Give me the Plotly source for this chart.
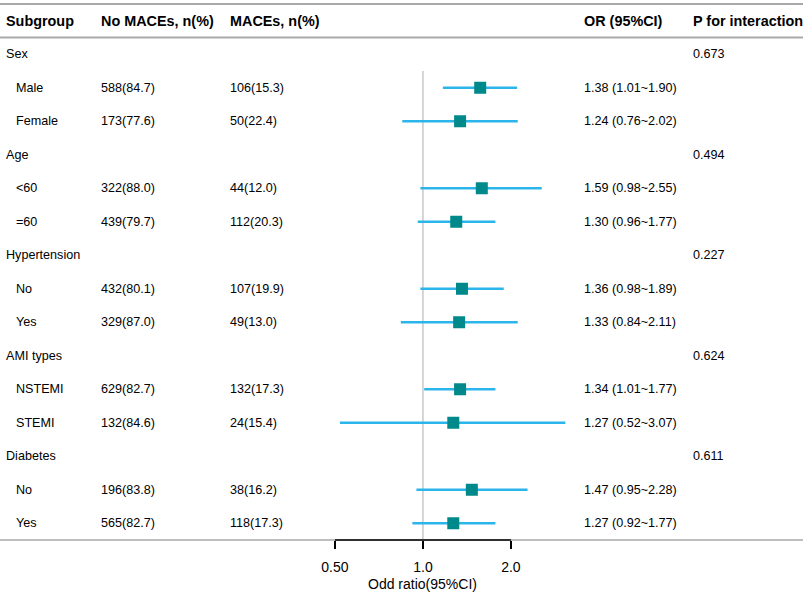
import plotly.graph_objects as go

# table rows (group rows have no numbers)
subgroups = ["Sex", "Male", "Female", "Age", "<60", "=60", "Hypertension", "No", "Yes",
             "AMI types", "NSTEMI", "STEMI", "Diabetes", "No", "Yes"]
is_group = [True, False, False, True, False, False, True, False, False,
            True, False, False, True, False, False]
no_maces = ["", "588(84.7)", "173(77.6)", "", "322(88.0)", "439(79.7)", "", "432(80.1)", "329(87.0)",
            "", "629(82.7)", "132(84.6)", "", "196(83.8)", "565(82.7)"]
maces = ["", "106(15.3)", "50(22.4)", "", "44(12.0)", "112(20.3)", "", "107(19.9)", "49(13.0)",
         "", "132(17.3)", "24(15.4)", "", "38(16.2)", "118(17.3)"]
or_text = ["", "1.38 (1.01~1.90)", "1.24 (0.76~2.02)", "", "1.59 (0.98~2.55)", "1.30 (0.96~1.77)",
           "", "1.36 (0.98~1.89)", "1.33 (0.84~2.11)", "", "1.34 (1.01~1.77)", "1.27 (0.52~3.07)",
           "", "1.47 (0.95~2.28)", "1.27 (0.92~1.77)"]
p_inter = ["0.673", "", "", "0.494", "", "", "0.227", "", "", "0.624", "", "", "0.611", "", ""]

# plotted estimates as drawn in the figure
est = [None, 1.57, 1.34, None, 1.59, 1.30, None, 1.36, 1.33, None, 1.34, 1.27, None, 1.47, 1.27]
lo = [None, 1.17, 0.85, None, 0.98, 0.96, None, 0.98, 0.84, None, 1.01, 0.52, None, 0.95, 0.92]
hi = [None, 2.10, 2.11, None, 2.55, 1.77, None, 1.89, 2.11, None, 1.77, 3.07, None, 2.28, 1.77]

tick_vals = [0.5, 1, 2]
tick_text = ["0.50", "1.0", "2.0"]

W, H = 807, 595
FONT = "Arial, Liberation Sans, sans-serif"
BOX = "#00898a"
CI = "#2bb5ea"
RULE = "#a9a9a9"
RULE_END = 803 / W

rows = list(range(len(subgroups)))

# CI segments
seg_x, seg_y = [], []
for i in rows:
    if est[i] is None:
        continue
    seg_x += [lo[i], hi[i], None]
    seg_y += [i, i, None]

fig = go.Figure()
fig.add_trace(go.Scatter(x=seg_x, y=seg_y, mode="lines",
                         line=dict(color=CI, width=2.5), hoverinfo="skip"))
pts = [i for i in rows if est[i] is not None]
fig.add_trace(go.Scatter(x=[est[i] for i in pts], y=pts, mode="markers",
                         marker=dict(symbol="square", size=12, color=BOX, line=dict(width=0))))

# columns: (paper x in px, header, values)
cols = [
    (99, "No MACEs, n(%)", no_maces),
    (228, "MACEs, n(%)", maces),
    (582, "OR (95%CI)", or_text),
    (691, "P for interaction", p_inter),
]

ann = []
ann.append(dict(x=4 / W, y=-1, text="<b>Subgroup</b>", size=14.4))
for xp, head, vals in cols:
    ann.append(dict(x=xp / W, y=-1, text="<b>%s</b>" % head, size=14.4))
for i in rows:
    ann.append(dict(x=(4 if is_group[i] else 14) / W, y=i, text=subgroups[i], size=12.6))
    for xp, head, vals in cols:
        if vals[i]:
            ann.append(dict(x=xp / W, y=i, text=vals[i], size=12.6))

annotations = []
for a in ann:
    annotations.append(dict(x=a["x"], y=a["y"], xref="paper", yref="y", text=a["text"],
                            showarrow=False, xanchor="left", yanchor="middle",
                            font=dict(family=FONT, size=a["size"], color="black")))
annotations.append(dict(x=0, y=-44 / 536, xref="x", yref="paper", text="Odd ratio(95%CI)",
                        showarrow=False, xanchor="center", yanchor="middle",
                        font=dict(family=FONT, size=14, color="black")))

shapes = [
    dict(type="line", xref="paper", yref="paper", x0=0, x1=RULE_END, y0=1, y1=1,
         line=dict(color=RULE, width=2)),
    dict(type="line", xref="paper", yref="y", x0=0, x1=RULE_END, y0=-0.5, y1=-0.5,
         line=dict(color=RULE, width=2)),
    dict(type="line", xref="paper", yref="paper", x0=0, x1=RULE_END, y0=0, y1=0,
         line=dict(color=RULE, width=1.5)),
    dict(type="line", xref="x", yref="y", x0=1, x1=1, y0=0.5, y1=14.5, layer="below",
         line=dict(color="#c8c8c8", width=1.5)),
    dict(type="line", xref="x", yref="paper", x0=0.5, x1=2, y0=0, y1=0,
         line=dict(color="black", width=1.5)),
]

fig.update_layout(
    width=W, height=H,
    margin=dict(l=0, r=0, t=4, b=55),
    paper_bgcolor="white", plot_bgcolor="white",
    showlegend=False,
    annotations=annotations,
    shapes=shapes,
    font=dict(family=FONT, color="black"),
)
fig.update_xaxes(type="log", range=[-1.447, 1.314], tickvals=tick_vals, ticktext=tick_text,
                 ticks="outside", ticklen=8, tickwidth=1.5, tickcolor="black",
                 ticklabelstandoff=6, tickfont=dict(family=FONT, size=14, color="black"),
                 showgrid=False, zeroline=False, showline=False, fixedrange=True)
fig.update_yaxes(range=[14.5, -1.5], visible=False, showgrid=False, zeroline=False)

# page body has a default margin; remove it so the figure sits at the window corner
fig.write_html("out.html", config={"displayModeBar": False},
               post_script="document.body.style.margin='0';")
